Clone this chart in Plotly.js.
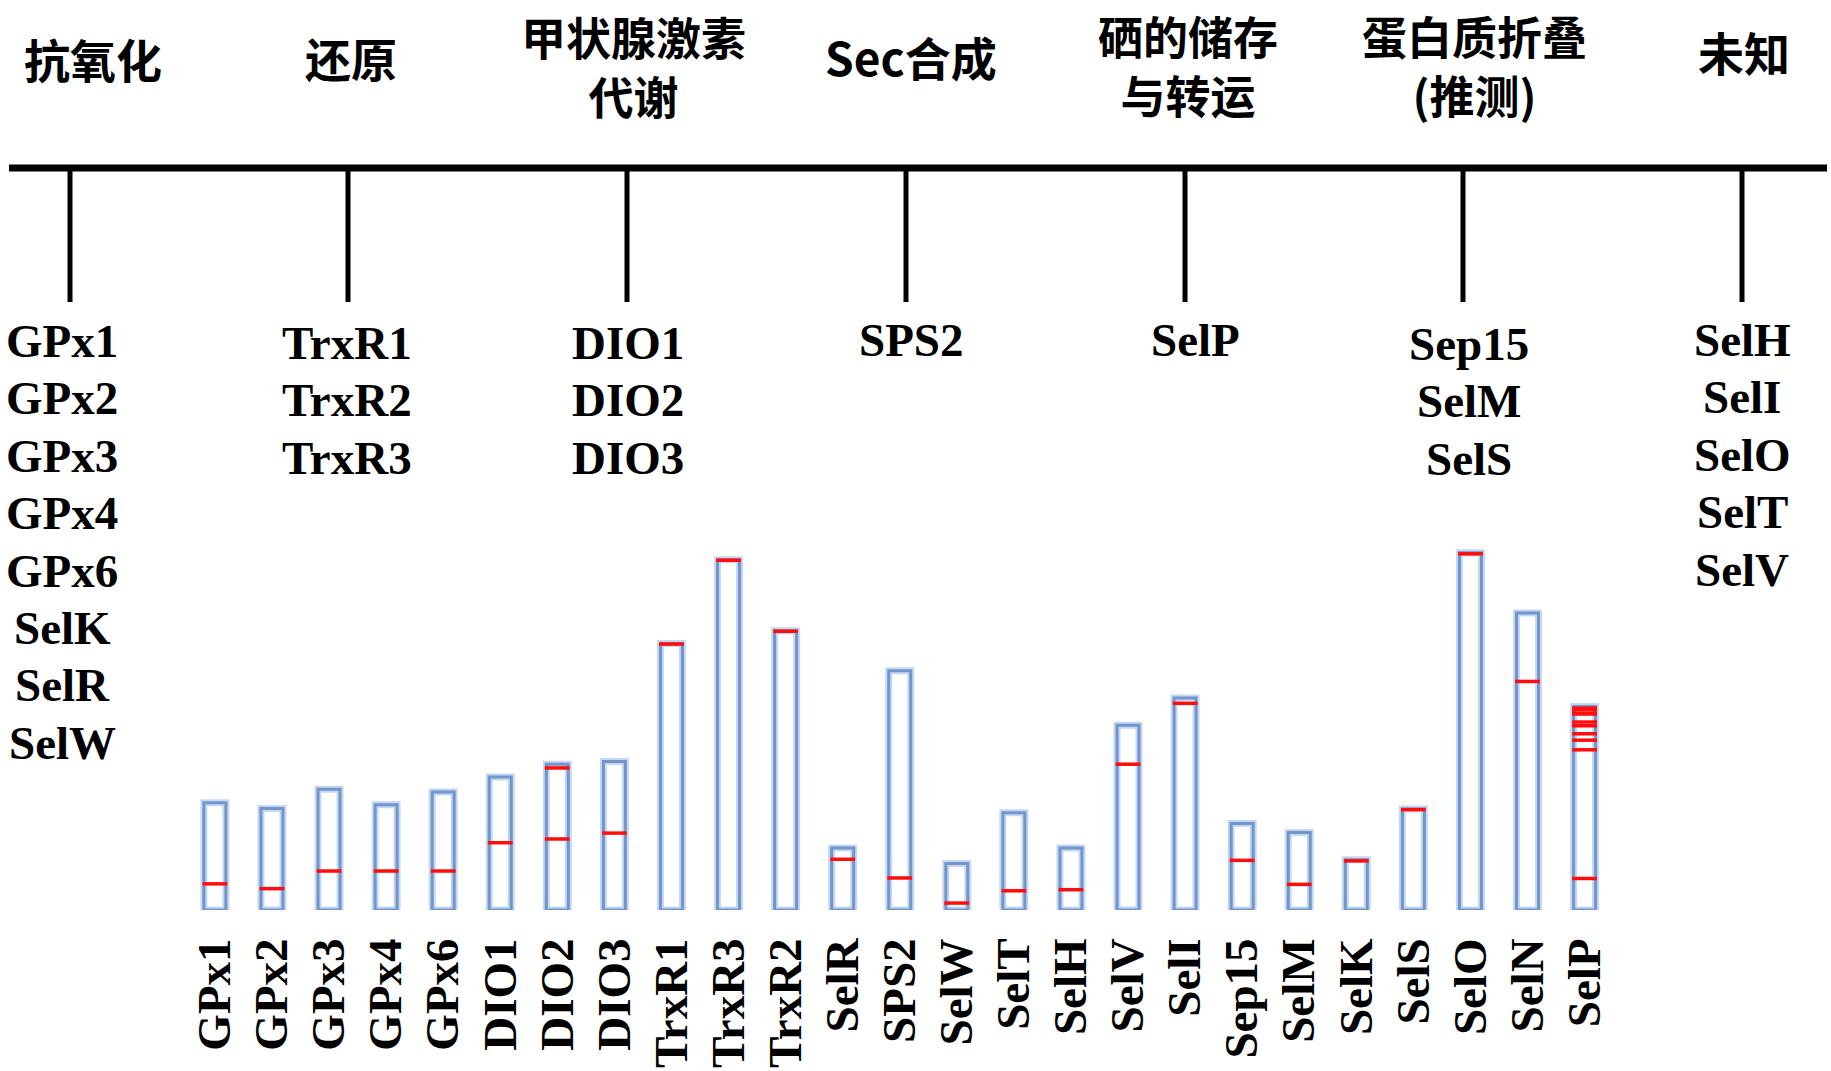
<!DOCTYPE html>
<html>
<head>
<meta charset="utf-8">
<script src="https://cdn.plot.ly/plotly-3.0.1.min.js"></script>
<style>html,body{margin:0;padding:0;background:#fff;}#chart{width:1831px;height:1071px;}</style>
</head>
<body>
<div id="chart"></div>
<script>
// ---------- data ----------
const categories = ['GPx1','GPx2','GPx3','GPx4','GPx6','DIO1','DIO2','DIO3','TrxR1','TrxR3','TrxR2','SelR','SPS2','SelW','SelT','SelH','SelV','SelI','Sep15','SelM','SelK','SelS','SelO','SelN','SelP'];
const proteinLength = [201,190,226,197,221,249,273,278,499,656,523,116,448,87,182,116,346,397,162,145,94,189,669,556,381];
const secPositions = [[49],[40],[73],[73],[73],[126],[133,266],[144],[498],[655],[522],[95],[60],[13],[36],[38],[273],[387],[93],[48],[92],[188],[667],[428],[59,300,318,330,345,352,367,369,376,378]];

const groupTitles = ['抗氧化','还原','甲状腺激素<br>代谢','Sec合成','硒的储存<br>与转运','蛋白质折叠<br>(推测)','未知'];
const groupMembers = [
  ['GPx1','GPx2','GPx3','GPx4','GPx6','SelK','SelR','SelW'],
  ['TrxR1','TrxR2','TrxR3'],
  ['DIO1','DIO2','DIO3'],
  ['SPS2'],
  ['SelP'],
  ['Sep15','SelM','SelS'],
  ['SelH','SelI','SelO','SelT','SelV']
];

// ---------- layout constants (pixels) ----------
const W = 1831, H = 1071, BOTTOM = 161;
const PH = H - BOTTOM;            // plot height in px
const PX_PER_AA = 0.534;
const X0 = 214.9, STEP = 57.07;   // bar centre pixel of first bar, spacing
const BAR_W = 0.385;
const px = x => x / W;
const py = y => (PH - y) / PH;

const tickX = [70, 348, 627, 906, 1185, 1463, 1742];
const titleX = [93, 351, 633, 911, 1188, 1474, 1744];
const titleY = [58, 57, 66, 56, 65, 65, 51];
const titleSize = [46, 46, 45, 46, 45, 45, 46];
const memberX = [62, 347, 628, 911, 1195, 1469, 1742];
const memberY0 = [341, 343, 343, 340, 340, 344, 340];
const ROW = 57.4;

const idx = categories.map((_, i) => i);

// red Sec marks
const redX = [], redY = [];
const HW = BAR_W / 2 + 0.025;
secPositions.forEach((arr, i) => {
  arr.forEach(s => { redX.push(i - HW, i + HW, null); redY.push(s, s, null); });
});

const traces = [
  {type:'bar', x: idx, y: proteinLength, width: BAR_W,
   marker:{color:'#ffffff', line:{color:'rgba(160,190,230,0.6)', width:7}}, hoverinfo:'skip', showlegend:false},
  {type:'bar', x: idx, y: proteinLength, width: BAR_W,
   marker:{color:'rgba(0,0,0,0)', line:{color:'rgb(112,150,205)', width:3}}, hovertext: categories, showlegend:false},
  {type:'scatter', mode:'lines', x: redX, y: redY, line:{color:'#ff0d0d', width:3.5}, hoverinfo:'skip', showlegend:false}
];

const shapes = [
  {type:'line', xref:'paper', yref:'paper', x0: px(9), x1: px(1827), y0: py(168), y1: py(168), line:{color:'#000', width:7}}
];
tickX.forEach(x => shapes.push({type:'line', xref:'paper', yref:'paper', x0: px(x), x1: px(x), y0: py(168), y1: py(302), line:{color:'#000', width:5}}));

const annotations = [];
groupTitles.forEach((t, g) => annotations.push({
  xref:'paper', yref:'paper', x: px(titleX[g]), y: py(titleY[g]), text: t, showarrow:false,
  xanchor:'center', yanchor:'middle', align:'center', borderpad:0,
  font:{family:'"Noto Sans CJK SC", sans-serif', size:titleSize[g], weight:'bold', color:'#000'}
}));
groupMembers.forEach((list, g) => {
  list.forEach((t, k) => annotations.push({
    xref:'paper', yref:'paper', x: px(memberX[g]), y: py(memberY0[g] + k*ROW), text: t, showarrow:false,
    xanchor:'center', yanchor:'middle',
    font:{family:'"Liberation Serif", "Times New Roman", serif', size:47, weight:'bold', color:'#000'}
  }));
});

const layout = {
  width: W, height: H,
  margin:{l:0, r:0, t:0, b:BOTTOM, pad:0},
  paper_bgcolor:'#fff', plot_bgcolor:'#fff',
  barmode:'overlay',
  showlegend:false,
  xaxis:{range:[-X0/STEP, (W - X0)/STEP], tickvals: idx, ticktext: categories, tickangle:-90,
         showgrid:false, zeroline:false, showline:false, ticks:'', ticklabelstandoff:18, automargin:false,
         tickfont:{family:'"Liberation Serif", "Times New Roman", serif', size:47, weight:'bold', color:'#000'}},
  yaxis:{range:[0, PH / PX_PER_AA], visible:false, fixedrange:true},
  shapes, annotations
};

Plotly.newPlot('chart', traces, layout, {displayModeBar:false, staticPlot:true});
</script>
</body>
</html>
